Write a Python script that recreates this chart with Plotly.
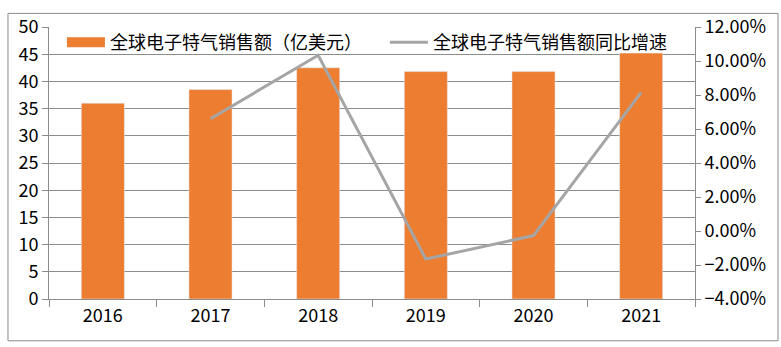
import plotly.graph_objects as go

years = ["2016", "2017", "2018", "2019", "2020", "2021"]
sales = [36.0, 38.5, 42.5, 41.8, 41.8, 45.2]
growth = [None, 0.066, 0.1034, -0.0165, -0.0027, 0.0816]

bar_name = "全球电子特气销售额（亿美元）"
line_name = "全球电子特气销售额同比增速"

FONT = "Noto Sans CJK SC"
BAR_COLOR = "#ED7D31"

fig = go.Figure()
fig.add_trace(go.Bar(x=years, y=sales, name=bar_name, marker_color=BAR_COLOR,
                     width=0.4, yaxis="y", showlegend=False, legendgroup="bar"))
# legend entry for the bars, drawn as a wide block like the original
fig.add_trace(go.Scatter(x=[None], y=[None], name=bar_name, mode="lines",
                         line=dict(color=BAR_COLOR, width=10), yaxis="y",
                         legendgroup="bar"))
fig.add_trace(go.Scatter(x=years, y=growth, name=line_name, mode="lines",
                         line=dict(color="#A5A5A5", width=3), yaxis="y2",
                         connectgaps=False))

fig.update_layout(
    width=781, height=347,
    margin=dict(l=49, r=86, t=19, b=48),
    paper_bgcolor="white", plot_bgcolor="white",
    font=dict(family=FONT, size=18, color="black"),
    showlegend=True,
    legend=dict(orientation="h", x=0.02, y=0.943, xanchor="left", yanchor="middle",
                bgcolor="rgba(0,0,0,0)", font=dict(size=18), itemwidth=38,
                entrywidth=270, traceorder="normal"),
    xaxis=dict(type="category", showline=True, linecolor="#8c8c8c", linewidth=1,
               ticks="outside", tickson="boundaries", ticklen=7, tickcolor="#8c8c8c",
               showgrid=False, tickfont=dict(size=18)),
    yaxis=dict(range=[0, 50], dtick=5, showline=True, linecolor="#8c8c8c",
               ticks="outside", ticklen=6, tickcolor="#8c8c8c",
               showgrid=True, gridcolor="#8c8c8c", gridwidth=1, zeroline=False,
               tickfont=dict(size=18)),
    yaxis2=dict(range=[-0.04, 0.12], dtick=0.02, tickformat=".2%", overlaying="y",
                side="right", showline=True, linecolor="#8c8c8c",
                ticks="outside", ticklen=5, tickcolor="#8c8c8c",
                showgrid=False, zeroline=False, tickfont=dict(size=18)),
    shapes=[dict(type="rect", xref="paper", yref="paper",
                 x0=-0.0635, x1=1.1285, y0=-0.1536, y1=1.05,
                 line=dict(color="#8c8c8c", width=1), fillcolor="rgba(0,0,0,0)",
                 layer="below")],
)

fig.write_html("out.html")
